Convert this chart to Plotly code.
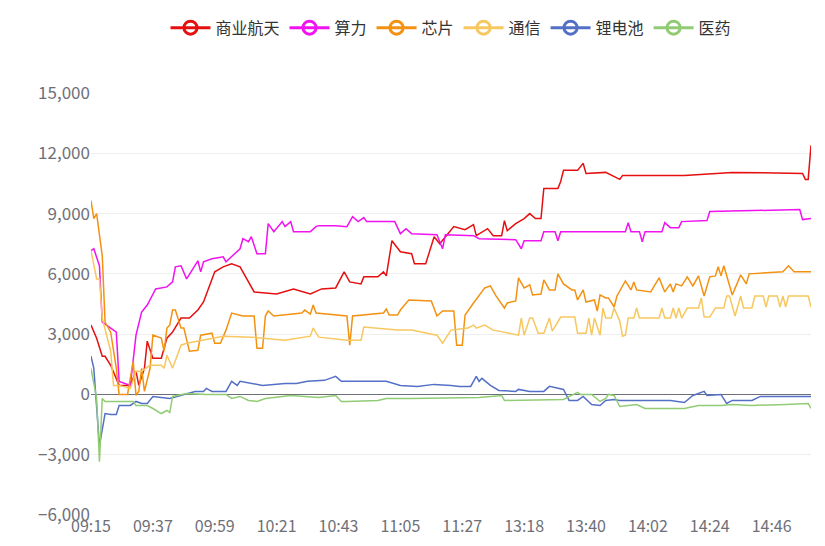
import plotly.graph_objects as go

# time axis: morning 09:15-11:30, afternoon 13:00-15:00
times = ["%02d:%02d" % divmod(9 * 60 + 15 + i, 60) for i in range(136)]
times += ["%02d:%02d" % divmod(13 * 60 + i, 60) for i in range(121)]
tick_labels = times[::22]

names = ["商业航天", "算力", "芯片", "通信", "锂电池", "医药"]
colors = ["#e60f10", "#f013f0", "#f39212", "#f7c760", "#5470c6", "#91cc75"]

# points: index into times, value
hy_i = [0, 2, 4, 5, 7, 10, 14, 16, 17, 19, 20, 22, 25, 27, 29, 32, 35, 38, 40, 42, 44, 47, 50, 53, 58, 66, 72, 78, 82, 87, 90, 92, 96, 97, 102, 104, 105, 107, 110, 114, 115, 119, 122, 124, 129, 133, 136, 137, 141, 143, 146, 147, 148, 151, 154, 156, 158, 160, 161, 166, 167, 168, 171, 173, 175, 176, 183, 188, 189, 211, 228, 253, 254, 255, 256]
hy_v = [3450, 2800, 1900, 1900, 1450, 450, 450, 1150, 450, 1300, 2650, 1800, 1800, 2800, 3100, 3800, 3800, 4200, 4600, 5400, 6100, 6350, 6500, 6350, 5100, 5000, 5250, 5000, 5250, 5300, 6100, 5600, 5500, 5850, 5850, 6100, 5900, 7650, 7100, 7000, 6500, 6500, 7850, 7500, 8350, 8200, 8450, 7900, 8250, 7900, 7900, 8650, 8150, 8500, 8750, 9000, 8750, 8750, 10250, 10250, 10600, 11150, 11150, 11150, 11500, 11000, 11050, 10700, 10900, 10900, 11050, 11000, 10700, 10700, 12400]

sl_i = [0, 1, 3, 4, 7, 9, 10, 14, 16, 18, 20, 23, 27, 29, 30, 32, 34, 37, 38, 39, 40, 43, 47, 48, 51, 53, 54, 56, 57, 59, 62, 63, 65, 68, 69, 71, 72, 78, 80, 81, 87, 91, 93, 95, 97, 98, 108, 110, 112, 114, 123, 125, 126, 136, 138, 151, 153, 154, 160, 161, 165, 166, 167, 171, 190, 191, 192, 195, 196, 197, 203, 204, 206, 209, 210, 219, 220, 252, 253, 256]
sl_v = [7150, 7250, 6400, 3600, 3300, 3100, 650, 450, 2950, 4100, 4450, 5250, 5350, 5600, 6350, 6400, 5750, 6400, 6650, 6100, 6600, 6750, 6850, 6600, 7000, 7250, 7750, 7600, 7850, 7000, 7000, 8500, 8100, 8600, 8350, 8600, 8100, 8100, 8350, 8400, 8400, 8350, 8850, 8600, 8800, 8600, 8600, 8000, 8250, 8000, 7950, 7250, 7950, 7900, 7750, 7700, 7250, 7650, 7650, 8100, 8100, 7650, 8100, 8100, 8100, 8550, 8100, 8100, 7600, 8100, 8100, 8550, 8300, 8300, 8600, 8650, 9100, 9200, 8700, 8750]

xp_i = [0, 1, 2, 4, 5, 7, 9, 10, 13, 15, 16, 17, 18, 19, 21, 22, 25, 26, 27, 28, 29, 30, 32, 33, 35, 38, 39, 43, 44, 46, 48, 50, 54, 58, 59, 61, 62, 63, 65, 75, 76, 78, 79, 80, 91, 92, 93, 104, 105, 106, 109, 110, 113, 121, 123, 125, 129, 130, 132, 133, 136, 140, 142, 144, 147, 148, 151, 152, 154, 156, 157, 160, 161, 163, 165, 166, 168, 171, 172, 173, 175, 176, 179, 180, 181, 183, 184, 186, 187, 190, 192, 193, 194, 199, 202, 204, 206, 207, 208, 210, 212, 214, 216, 218, 220, 222, 223, 224, 225, 228, 231, 233, 234, 246, 248, 250, 256]
xp_v = [9650, 8750, 9000, 6900, 3600, 3100, 1300, 0, 0, 1650, -50, 150, 1300, 150, 1300, 2950, 2800, 2150, 3300, 3450, 4200, 4200, 3300, 3300, 2150, 2200, 2950, 3050, 2550, 2550, 3200, 4050, 3900, 3900, 2300, 2300, 3900, 4150, 3900, 4050, 4200, 4000, 4450, 4050, 3900, 2450, 3900, 4050, 4250, 3950, 3950, 4200, 4700, 4650, 3900, 4150, 4150, 2450, 2450, 3950, 4550, 5300, 5400, 4900, 4300, 4550, 4650, 5800, 5300, 5450, 4950, 5000, 5700, 5200, 5200, 6000, 5500, 5200, 5200, 4700, 5200, 4600, 4700, 4150, 4950, 4800, 4800, 4350, 4900, 5650, 5200, 5600, 5200, 5100, 5800, 5100, 5500, 5100, 5500, 5400, 5850, 5400, 5900, 4900, 5850, 5900, 6350, 5900, 6400, 4950, 5950, 5500, 6000, 6100, 6400, 6100, 6100]

tx_i = [0, 2, 3, 4, 7, 8, 10, 14, 16, 18, 21, 25, 26, 27, 29, 32, 34, 38, 43, 47, 57, 69, 78, 79, 81, 91, 96, 97, 109, 114, 123, 125, 128, 134, 136, 137, 140, 143, 145, 152, 153, 154, 156, 157, 159, 161, 163, 164, 167, 172, 173, 176, 177, 178, 179, 181, 182, 183, 185, 186, 188, 189, 190, 191, 193, 194, 195, 202, 203, 204, 206, 207, 208, 209, 210, 212, 216, 217, 218, 220, 222, 225, 226, 227, 229, 231, 232, 235, 236, 239, 240, 241, 244, 245, 246, 247, 248, 255, 256]
tx_v = [7150, 5750, 5750, 3800, 2150, 450, 450, 300, 1150, 1150, 1450, 1450, 1300, 1950, 1300, 2450, 2550, 2650, 2800, 2900, 2850, 2700, 2900, 3300, 2850, 2700, 2700, 3350, 3200, 3200, 2950, 2550, 3200, 3300, 3450, 3300, 3450, 3200, 3150, 2950, 3800, 2950, 3800, 3800, 3050, 3050, 3800, 3150, 3850, 3850, 3050, 3050, 3800, 2950, 3800, 2950, 4300, 3800, 3800, 4300, 3650, 2900, 2950, 3800, 3800, 4300, 3800, 3800, 4300, 3800, 3800, 4300, 3800, 4300, 3800, 4300, 4300, 4800, 3850, 3850, 4300, 4300, 4900, 4900, 3900, 4900, 4300, 4300, 4900, 4900, 4350, 4900, 4900, 4350, 4900, 4350, 4900, 4900, 4350]

ld_i = [0, 1, 3, 5, 7, 9, 10, 14, 16, 18, 20, 22, 28, 32, 37, 40, 41, 43, 48, 50, 52, 53, 61, 69, 73, 77, 83, 87, 89, 105, 110, 116, 122, 128, 131, 135, 137, 138, 139, 142, 145, 151, 152, 156, 161, 163, 168, 170, 173, 175, 178, 181, 183, 186, 188, 206, 211, 214, 218, 219, 224, 226, 228, 235, 238, 256]
ld_v = [1900, 1300, -2550, -950, -1000, -1000, -550, -550, -350, -450, -450, -100, -200, -50, 150, 150, 300, 150, 150, 650, 450, 650, 450, 550, 550, 650, 700, 900, 650, 650, 450, 400, 500, 450, 400, 400, 900, 650, 800, 450, 200, 150, 250, 150, 150, 400, 250, -300, -300, -100, -500, -550, -300, -250, -300, -300, -400, -50, 150, -50, 0, -450, -300, -300, -100, -100]

yy_i = [0, 2, 3, 4, 5, 9, 15, 16, 20, 22, 25, 27, 28, 29, 34, 41, 48, 50, 53, 56, 59, 62, 65, 71, 81, 87, 89, 91, 102, 105, 114, 138, 146, 147, 168, 173, 174, 178, 181, 183, 184, 186, 188, 194, 197, 211, 216, 224, 228, 235, 247, 255, 256]
yy_v = [1300, -200, -3350, -200, -350, -350, -350, -550, -550, -700, -950, -800, -900, -100, 50, 0, 0, -200, -100, -300, -350, -200, -150, -50, -150, -50, -350, -350, -300, -200, -200, -150, -50, -300, -250, 100, 0, 0, -350, -200, 0, -50, -600, -500, -700, -700, -550, -550, -500, -550, -500, -450, -700]

series = [(hy_i, hy_v), (sl_i, sl_v), (xp_i, xp_v), (tx_i, tx_v), (ld_i, ld_v), (yy_i, yy_v)]

fig = go.Figure()
for (idx, vals), name, c in zip(series, names, colors):
    fig.add_trace(go.Scatter(x=[times[i] for i in idx], y=vals, mode="lines", name=name,
                             line=dict(color=c, width=1.5), legendgroup=name, showlegend=False))
    # legend entry with the circle icon
    fig.add_trace(go.Scatter(x=[None], y=[None], mode="lines+markers", name=name, legendgroup=name,
                             line=dict(color=c, width=3),
                             marker=dict(symbol="circle-open", size=13, color=c, line=dict(width=3))))

fig.update_layout(
    width=825, height=546,
    margin=dict(l=83, r=22, t=85, b=39, autoexpand=False),
    plot_bgcolor="white", paper_bgcolor="white",
    font=dict(family="Noto Sans CJK SC", color="#6e7079"),
    legend=dict(orientation="h", x=0.5, xanchor="center", y=0.995, yanchor="top", yref="container",
                font=dict(size=16, color="#333"), itemwidth=40, tracegroupgap=0),
    xaxis=dict(type="category", categoryorder="array", categoryarray=times, automargin=False,
               range=[0, len(times) - 1], tickmode="array", tickvals=tick_labels,
               showgrid=False, ticks="", tickfont=dict(size=16, color="#6e7079")),
    yaxis=dict(range=[-6000, 15000], tickvals=list(range(-6000, 15001, 3000)), automargin=False,
               tickformat=",", showgrid=True, gridcolor="#eeeeee", zeroline=True,
               zerolinecolor="#6e7079", zerolinewidth=1, tickfont=dict(size=17, color="#6e7079")),
)

fig.write_html("out.html")
